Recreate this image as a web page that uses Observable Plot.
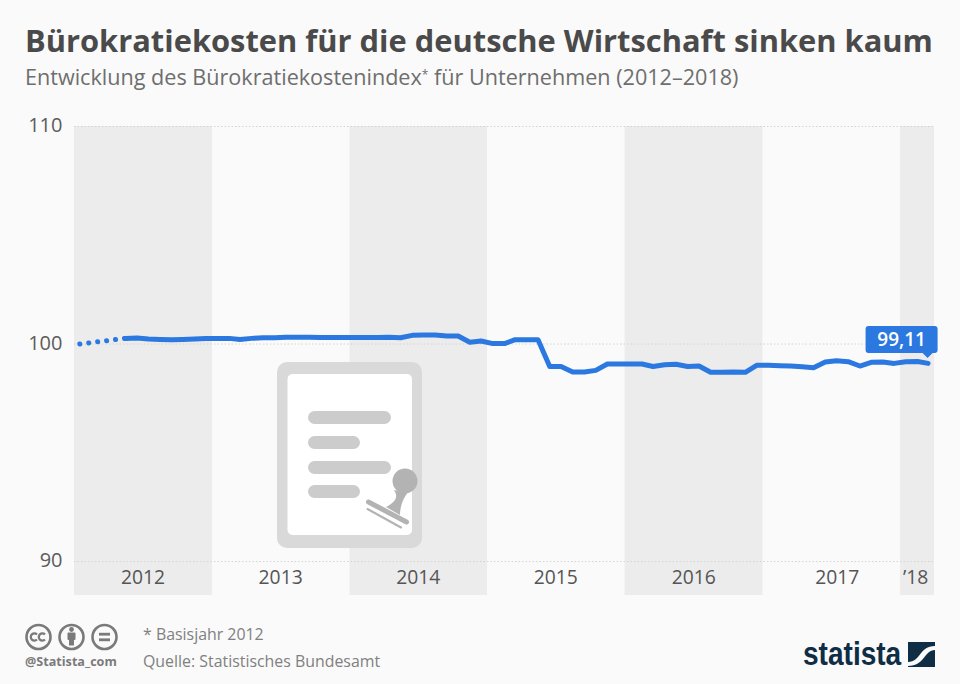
<!DOCTYPE html>
<html lang="de">
<head>
<meta charset="utf-8">
<script src="https://cdn.jsdelivr.net/npm/d3@7"></script>
<script src="https://cdn.jsdelivr.net/npm/@observablehq/plot@0.6"></script>
<style>
  html, body { margin: 0; padding: 0; background: #fafafa; }
  body { width: 960px; height: 684px; position: relative; overflow: hidden; font-family: "Open Sans", sans-serif; }
  #title { position: absolute; left: 25px; top: 17px; font-size: 30.85px; font-weight: 700; color: #4a4a4a; white-space: nowrap; line-height: 46px; }
  #subtitle { position: absolute; left: 25px; top: 62px; font-size: 21.6px; color: #6e6e6e; white-space: nowrap; line-height: 30px; }
  #subtitle sup { font-size: 12px; line-height: 0; vertical-align: 6px; }
  #chart { position: absolute; left: 0; top: 110px; }
  #chart svg { display: block; }
  .overlay { position: absolute; left: 0; top: 0; pointer-events: none; }
  .note { position: absolute; left: 143px; font-size: 15.9px; color: #808080; white-space: nowrap; line-height: 20px; }
  #handle { position: absolute; left: 25px; top: 654px; font-size: 12.6px; font-weight: 700; color: #7a7a7a; line-height: 16px; white-space: nowrap; }
  #brand { position: absolute; left: 803px; top: 634px; font-family: "Liberation Sans", sans-serif; font-size: 33px; font-weight: 700; color: #0f2d45; line-height: 40px; white-space: nowrap; transform: scaleX(0.85); transform-origin: left center; }
</style>
</head>
<body>
<div id="title">Bürokratiekosten für die deutsche Wirtschaft sinken kaum</div>
<div id="subtitle">Entwicklung des Bürokratiekostenindex<sup>*</sup> für Unternehmen (2012–2018)</div>
<div id="chart"></div>

<svg class="overlay" width="960" height="684" id="icon">
  <rect x="277" y="362" width="145" height="186" rx="10" fill="#d9d9d9"/>
  <rect x="287.500" y="374" width="124.500" height="161" rx="5" fill="#ffffff"/>
  <g fill="#cccccc">
    <rect x="308" y="411" width="83" height="13" rx="6.500"/>
    <rect x="308" y="436" width="52" height="13" rx="6.500"/>
    <rect x="308" y="461" width="83" height="13" rx="6.500"/>
    <rect x="308" y="485" width="52" height="13" rx="6.500"/>
  </g>
  <g fill="#b3b3b3">
    <circle cx="405" cy="481" r="12.500"/>
    <path d="M394 490 C398 496 397 501 386 507 L400 515 C400 506 403 499 408 492 Z"/>
  </g>
  <g stroke="#b3b3b3" fill="none" stroke-linecap="round">
    <path d="M368.500 502 L406.500 522" stroke-width="5"/>
    <path d="M367.500 509 L401 527.500" stroke-width="2"/>
  </g>
</svg>

<svg class="overlay" width="960" height="684" id="cc">
  <g fill="none" stroke="#7a7a7a" stroke-width="2.600">
    <circle cx="38.500" cy="637" r="12"/>
    <circle cx="71.500" cy="637" r="12"/>
    <circle cx="104.500" cy="637" r="12"/>
  </g>
  <g fill="none" stroke="#7a7a7a" stroke-width="2.300">
    <path d="M37 634.500 A3.600 3.600 0 1 0 37 639.500"/>
    <path d="M45 634.500 A3.600 3.600 0 1 0 45 639.500"/>
  </g>
  <g fill="#7a7a7a">
    <circle cx="71.500" cy="629.500" r="2.400"/>
    <rect x="67.500" y="632.500" width="8" height="7.500" rx="1"/>
    <rect x="69" y="638" width="5" height="7.500"/>
    <rect x="99" y="632.800" width="11" height="2.800"/>
    <rect x="99" y="638.400" width="11" height="2.800"/>
  </g>
</svg>
<div id="handle">@Statista_com</div>
<div class="note" style="top:624px">* Basisjahr 2012</div>
<div class="note" style="top:651px">Quelle: Statistisches Bundesamt</div>
<div id="brand">statista</div>
<svg class="overlay" width="960" height="684" id="logo">
  <rect x="908" y="642" width="27" height="25" fill="#0f2d45"/>
  <path d="M908 662 C921 662 919 646 935 646 L935 650 C924 650 925 666 908 666 Z" fill="#fafafa"/>
</svg>

<script>
// Monthly index values, January 2012 onward
const dottedMonths = ["2012-01-15", "2012-05-15"];
const dottedValues = [100, 100.26];

const solidStart = "2012-05-15";
const solidValues = [
  100.26, 100.28, 100.23, 100.21, 100.20, 100.21, 100.23, 100.25,
  100.26, 100.26, 100.21, 100.26, 100.29, 100.29, 100.31, 100.31,
  100.31, 100.30, 100.30, 100.30, 100.30, 100.30, 100.30, 100.31,
  100.29, 100.40, 100.41, 100.41, 100.37, 100.37, 100.08, 100.14,
  100.02, 100.02, 100.20, 100.20, 100.20, 98.97, 98.97, 98.71,
  98.71, 98.79, 99.08, 99.08, 99.08, 99.08, 98.97, 99.05,
  99.07, 98.97, 98.99, 98.70, 98.70, 98.71, 98.70, 99.02,
  99.02, 99.00, 98.99, 98.96, 98.91, 99.17, 99.23, 99.19,
  98.99, 99.16, 99.17, 99.11, 99.19, 99.20, 99.11
];

const bandYears = [2012, 2014, 2016, 2018];
const yearLabels = ["2012", "2013", "2014", "2015", "2016", "2017", "’18"];
const yearLabelDates = ["2012-07-01", "2013-07-01", "2014-07-01", "2015-07-01", "2016-07-01", "2017-07-17", "2018-02-10"];
const yTicks = [90, 100, 110];
const lastLabel = "99,11";

const domainStart = new Date(Date.UTC(2012, 0, 1));
const domainEnd = new Date(Date.UTC(2018, 3, 1));

const parse = s => new Date(s + "T00:00:00Z");
const s0 = parse(solidStart);
const solid = solidValues.map((value, i) => ({
  date: new Date(Date.UTC(s0.getUTCFullYear(), s0.getUTCMonth() + i, 15)),
  value
}));
const dotted = dottedMonths.map((d, i) => ({date: parse(d), value: dottedValues[i]}));
const bands = bandYears.map(y => ({
  x1: new Date(Date.UTC(y, 0, 1)),
  x2: y === 2018 ? domainEnd : new Date(Date.UTC(y + 1, 0, 1))
}));
const labels = yearLabels.map((text, i) => ({text, date: parse(yearLabelDates[i])}));
const last = solid[solid.length - 1];

const blue = "#2a78e0";

function valueBadge(index, scales) {
  const px = scales.x(last.date), py = scales.y(last.value);
  const g = d3.create("svg:g");
  const right = px + 10, left = right - 72, bottom = py - 10, top = bottom - 27, r = 3;
  g.append("path")
    .attr("fill", blue)
    .attr("d", `M${left + r} ${top} H${right - r} Q${right} ${top} ${right} ${top + r} V${bottom - r} Q${right} ${bottom} ${right - r} ${bottom} H${px + 5} L${px} ${py - 5} L${px - 5} ${bottom} H${left + r} Q${left} ${bottom} ${left} ${bottom - r} V${top + r} Q${left} ${top} ${left + r} ${top} Z`);
  g.append("text")
    .attr("x", (left + right) / 2)
    .attr("y", (top + bottom) / 2)
    .attr("dy", "0.35em")
    .attr("text-anchor", "middle")
    .attr("fill", "#ffffff")
    .attr("font-family", "Open Sans, sans-serif")
    .attr("font-size", 19)
    .attr("font-weight", 600)
    .text(lastLabel);
  return g.node();
}

const plot = Plot.plot({
  width: 960,
  height: 486,
  marginTop: 16,
  marginBottom: 1,
  marginLeft: 74,
  marginRight: 26,
  style: {background: "transparent", fontFamily: "Open Sans, sans-serif"},
  x: {type: "utc", domain: [domainStart, domainEnd], axis: null},
  y: {domain: [88.44, 110], axis: null},
  marks: [
    Plot.rectY(bands, {x1: "x1", x2: "x2", y1: 88.44, y2: 110, fill: "#ececec"}),
    Plot.ruleY(yTicks, {stroke: "#d4d4d4", strokeWidth: 1, strokeDasharray: "1.5,2"}),
    Plot.text(yTicks, {
      x: domainStart, y: d => d, text: d => String(d),
      textAnchor: "end", dx: -12, dy: -0.5, fontSize: 20, fill: "#5c5c5c"
    }),
    Plot.text(labels, {
      x: "date", text: "text", frameAnchor: "bottom", dy: -11.5,
      fontSize: 19.3, fill: "#555555"
    }),
    Plot.line(dotted, {
      x: "date", y: "value", stroke: blue, strokeWidth: 5,
      strokeLinecap: "round", strokeDasharray: "0.1,8.9"
    }),
    Plot.line(solid, {
      x: "date", y: "value", stroke: blue, strokeWidth: 5,
      strokeLinecap: "round", strokeLinejoin: "round"
    }),
    valueBadge
  ]
});
document.getElementById("chart").append(plot);
</script>
</body>
</html>
